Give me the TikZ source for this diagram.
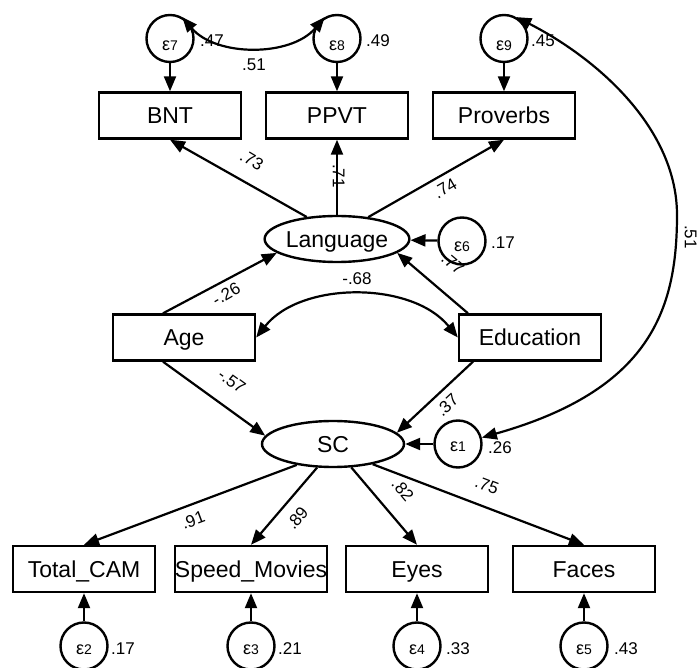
\documentclass[tikz,border=0pt]{standalone}
\usepackage{fontspec}
\setmainfont{Liberation Sans}
\usetikzlibrary{arrows.meta,shapes.geometric}
\newcommand\epsl[1]{{\fontsize{18}{18}\selectfont ε}{\fontsize{14}{14}\selectfont #1}}
\begin{document}
\begin{tikzpicture}[x=1pt,y=-1pt,
  obs/.style={draw,line width=2.4pt,rectangle,minimum width=142pt,minimum height=46pt,inner sep=0pt,font=\fontsize{23}{23}\selectfont,text height=16.5pt,text depth=0pt},
  lat/.style={draw,line width=2.4pt,ellipse,minimum width=142pt,minimum height=46pt,inner sep=0pt,font=\fontsize{23}{23}\selectfont,text height=16.5pt,text depth=0pt},
  err/.style={draw,line width=2.4pt,circle,minimum size=47pt,inner sep=0pt},
  etx/.style={inner sep=0pt,text height=10pt,text depth=0pt},
  lab/.style={inner sep=0pt,font=\fontsize{17}{17}\selectfont,text height=12.2pt,text depth=0pt},
  pth/.style={line width=2.2pt,-{Triangle[length=15pt,width=12pt]}},
  cov/.style={line width=2.2pt,{Triangle[length=15pt,width=12pt]}-{Triangle[length=15pt,width=12pt]}},
]
\useasboundingbox (0,0) rectangle (697,668);

% observed indicators (top)
\node[obs] (bnt) at (170,115.5) {BNT};
\node[obs] (ppvt) at (337,115.5) {PPVT};
\node[obs] (prov) at (504,115.5) {Proverbs};
% exogenous
\node[obs] (age) at (184,337.5) {Age};
\node[obs] (edu) at (530,337.5) {Education};
% latent
\node[lat] (lang) at (337,239) {Language};
\node[lat] (sc) at (333,444) {SC};
% observed indicators (bottom)
\node[obs] (tc) at (84,569) {Total\_CAM};
\node[obs] (spd) at (251,569) {Speed\_Movies};
\node[obs] (eye) at (417,569) {Eyes};
\node[obs] (fac) at (584,569) {Faces};

% error terms
\node[err] (e7) at (170,38.5) {};
\node[err] (e8) at (337,38.5) {};
\node[err] (e9) at (504,38.5) {};
\node[err] (e6) at (462,241) {};
\node[err] (e1) at (458,444) {};
\node[err] (e2) at (84,646) {};
\node[err] (e3) at (251,646) {};
\node[err] (e4) at (417,646) {};
\node[err] (e5) at (584,646) {};

\node[etx] (e7t) at ([yshift=-7pt]e7.center) {\epsl{7}};
\node[etx] (e8t) at ([yshift=-7pt]e8.center) {\epsl{8}};
\node[etx] (e9t) at ([yshift=-7pt]e9.center) {\epsl{9}};
\node[etx] (e6t) at ([yshift=-6pt]e6.center) {\epsl{6}};
\node[etx] (e1t) at ([yshift=-3pt]e1.center) {\epsl{1}};
\node[etx] (e2t) at ([yshift=-3pt]e2.center) {\epsl{2}};
\node[etx] (e3t) at ([yshift=-3pt]e3.center) {\epsl{3}};
\node[etx] (e4t) at ([yshift=-3pt]e4.center) {\epsl{4}};
\node[etx] (e5t) at ([yshift=-3pt]e5.center) {\epsl{5}};

% error paths
\draw[pth] (e7) -- (bnt);
\draw[pth] (e8) -- (ppvt);
\draw[pth] (e9) -- (prov);
\draw[pth] (e6) -- (lang);
\draw[pth] (e1) -- (sc);
\draw[pth] (e2) -- (tc);
\draw[pth] (e3) -- (spd);
\draw[pth] (e4) -- (eye);
\draw[pth] (e5) -- (fac);

% structural paths
\draw[pth] (lang.144) -- (bnt.south);
\draw[pth] (lang.north) -- (ppvt.south);
\draw[pth] (lang.35) -- (prov.south);
\draw[pth] ([xshift=-21pt]age.north) -- (lang.-167);
\draw[pth] ([xshift=-62pt]edu.north) -- (lang.-13);
\draw[pth] ([xshift=-21pt]age.south) -- (sc.173);
\draw[pth] ([xshift=-57pt]edu.south) -- (sc.10);
\draw[pth] (sc.-150) -- (tc.north);
\draw[pth] (sc.-124) -- (spd.north);
\draw[pth] (sc.-52) -- (eye.north);
\draw[pth] (sc.-27) -- (fac.north);

% covariances
\draw[cov] (e7.60) .. controls (216,57) and (291,57) .. (e8.120);
\draw[cov] (age.east) .. controls (301,281) and (412,281) .. (edu.west);
\coordinate (bigr) at (677,215);
\draw[cov] (e9.60) .. controls (600,60) and (677,130) .. (bigr) .. controls (677,310) and (650,390) .. (e1.15);

% labels
\node[lab] (l47) at (212,40) {.47};
\node[lab] (l49) at (378,40) {.49};
\node[lab] (l45) at (543,40) {.45};
\node[lab] (l51a) at (254,64) {.51};
\node[lab,rotate=-31] (l73) at (252,160) {.73};
\node[lab,rotate=-90] (l71) at (339,176) {.71};
\node[lab,rotate=30] (l74) at (445,188) {.74};
\node[lab] (l17a) at (503,242) {.17};
\node[lab,rotate=30] (l26a) at (226,294) {-.26};
\node[lab] (l68) at (357,278) {-.68};
\node[lab,rotate=-40] (l77) at (453,263) {.77};
\node[lab,rotate=-36] (l57) at (232,381) {-.57};
\node[lab,rotate=43] (l37) at (447,405) {.37};
\node[lab] (l26b) at (500,447) {.26};
\node[lab,rotate=-90] (l51b) at (691,237) {.51};
\node[lab,rotate=20.5] (l91) at (193,520) {.91};
\node[lab,rotate=50] (l89) at (297,518) {.89};
\node[lab,rotate=-50] (l82) at (403,490) {.82};
\node[lab,rotate=-21] (l75) at (487,485) {.75};
\node[lab] (l17b) at (123,648) {.17};
\node[lab] (l21) at (290,648) {.21};
\node[lab] (l33) at (458,648) {.33};
\node[lab] (l43) at (626,648) {.43};
\end{tikzpicture}
\end{document}
